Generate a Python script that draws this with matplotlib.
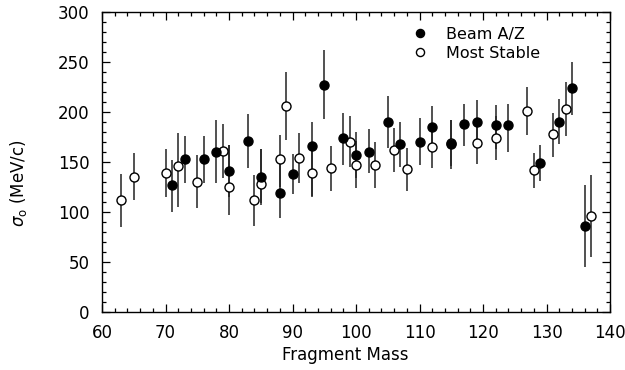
import matplotlib
matplotlib.use("agg")
import matplotlib.pyplot as plt
from matplotlib.ticker import MultipleLocator

plt.rcParams['font.family'] = ['DejaVu Sans']
plt.rcParams['mathtext.fontset'] = 'dejavusans'

# Beam A/Z (filled)
beam_mass = [71, 73, 76, 78, 80, 83, 85, 88, 90, 93, 95, 98, 100, 102, 105, 107,
             110, 112, 115, 117, 119, 122, 124, 129, 132, 134, 136]
beam_sigma = [127, 153, 153, 160, 141, 171, 135, 119, 138, 166, 227, 174, 157, 160,
              190, 168, 170, 185, 168, 188, 190, 187, 187, 149, 190, 224, 86]
beam_lo = [100, 129, 129, 129, 115, 144, 109, 94, 118, 116, 193, 147, 134, 139,
           164, 145, 147, 160, 143, 166, 166, 163, 160, 131, 168, 197, 45]
beam_hi = [152, 176, 176, 192, 167, 198, 163, 148, 158, 190, 262, 199, 180, 183,
           216, 190, 194, 206, 192, 208, 212, 207, 208, 167, 213, 250, 127]

# Most Stable (open)
stable_mass = [63, 65, 70, 72, 75, 79, 80, 84, 85, 88, 89, 91, 93, 96, 99, 100,
               103, 106, 108, 112, 115, 119, 122, 127, 128, 131, 133, 137]
stable_sigma = [112, 135, 139, 146, 130, 161, 125, 112, 128, 153, 206, 154, 139,
                144, 170, 147, 147, 162, 143, 165, 169, 169, 174, 201, 142, 178,
                203, 96]
stable_lo = [85, 112, 115, 105, 104, 134, 97, 86, 107, 125, 172, 129, 115, 121,
             145, 124, 124, 140, 121, 144, 146, 148, 152, 177, 124, 155, 176, 55]
stable_hi = [138, 159, 163, 179, 157, 188, 167, 137, 163, 177, 240, 179, 165,
             166, 196, 171, 170, 184, 164, 188, 192, 192, 196, 225, 159, 199,
             230, 137]

fig = plt.figure(figsize=(6.25, 3.7), dpi=100)
ax = fig.add_axes([0.1632, 0.1568, 0.8128, 0.8108])

ax.vlines(beam_mass, beam_lo, beam_hi, color='#222222', lw=1.1, zorder=1)
ax.vlines(stable_mass, stable_lo, stable_hi, color='#222222', lw=1.1, zorder=1)
ax.plot(stable_mass, stable_sigma, 'o', ms=6.5, mfc='white', mec='black',
        mew=1.0, ls='none', zorder=2, label='Most Stable')
ax.plot(beam_mass, beam_sigma, 'o', ms=6.5, mfc='black', mec='black',
        ls='none', zorder=3, label='Beam A/Z')

h, l = ax.get_legend_handles_labels()
ax.legend(h[::-1], l[::-1], loc='upper left', bbox_to_anchor=(0.582, 0.998),
          frameon=False, fontsize=11.5, handletextpad=1.1, labelspacing=0.25,
          handlelength=1.0, markerscale=0.9)

ax.set_xlim(60, 140)
ax.set_ylim(0, 300)
ax.xaxis.set_major_locator(MultipleLocator(10))
ax.xaxis.set_minor_locator(MultipleLocator(2))
ax.yaxis.set_major_locator(MultipleLocator(50))
ax.yaxis.set_minor_locator(MultipleLocator(10))
ax.tick_params(which='both', direction='in', top=True, right=True, width=0.9)
ax.tick_params(which='major', length=6, labelsize=12, pad=9)
ax.tick_params(which='minor', length=3)
for s in ax.spines.values():
    s.set_linewidth(1.0)

ax.set_xlabel('Fragment Mass', fontsize=12, va='center')
ax.set_ylabel(r'$\sigma_{\mathrm{o}}$ (MeV/c)', fontsize=12, va='center')
ax.xaxis.set_label_coords(0.478, -0.143)
ax.yaxis.set_label_coords(-0.165, 0.43)

plt.savefig("out.png", dpi=100)
